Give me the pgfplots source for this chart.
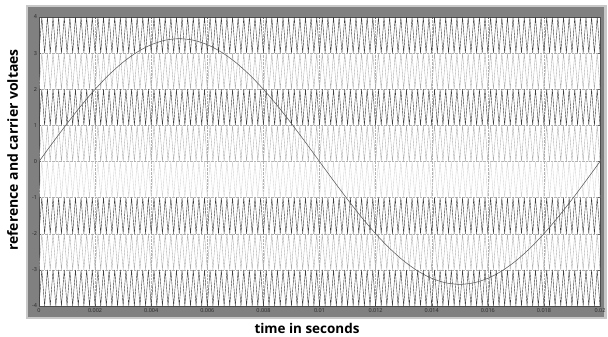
\documentclass[border=0pt]{standalone}
\usepackage{fontspec}
\setmainfont{Open Sans}
\usepackage{pgfplots}
\usepackage{pgfplotstable}
\pgfplotsset{compat=1.18}
% carrier: time index n in units of 0.1 ms, s = normalised carrier level
\pgfplotstableread[row sep=\\]{
n s\\
0 0\\1 1\\2 0\\3 1\\4 0\\5 1\\6 0\\7 1\\8 0\\9 1\\
10 0\\11 1\\12 0\\13 1\\14 0\\15 1\\16 0\\17 1\\18 0\\19 1\\
20 0\\21 1\\22 0\\23 1\\24 0\\25 1\\26 0\\27 1\\28 0\\29 1\\
30 0\\31 1\\32 0\\33 1\\34 0\\35 1\\36 0\\37 1\\38 0\\39 1\\
40 0\\41 1\\42 0\\43 1\\44 0\\45 1\\46 0\\47 1\\48 0\\49 1\\
50 0\\51 1\\52 0\\53 1\\54 0\\55 1\\56 0\\57 1\\58 0\\59 1\\
60 0\\61 1\\62 0\\63 1\\64 0\\65 1\\66 0\\67 1\\68 0\\69 1\\
70 0\\71 1\\72 0\\73 1\\74 0\\75 1\\76 0\\77 1\\78 0\\79 1\\
80 0\\81 1\\82 0\\83 1\\84 0\\85 1\\86 0\\87 1\\88 0\\89 1\\
90 0\\91 1\\92 0\\93 1\\94 0\\95 1\\96 0\\97 1\\98 0\\99 1\\
100 0\\101 1\\102 0\\103 1\\104 0\\105 1\\106 0\\107 1\\108 0\\109 1\\
110 0\\111 1\\112 0\\113 1\\114 0\\115 1\\116 0\\117 1\\118 0\\119 1\\
120 0\\121 1\\122 0\\123 1\\124 0\\125 1\\126 0\\127 1\\128 0\\129 1\\
130 0\\131 1\\132 0\\133 1\\134 0\\135 1\\136 0\\137 1\\138 0\\139 1\\
140 0\\141 1\\142 0\\143 1\\144 0\\145 1\\146 0\\147 1\\148 0\\149 1\\
150 0\\151 1\\152 0\\153 1\\154 0\\155 1\\156 0\\157 1\\158 0\\159 1\\
160 0\\161 1\\162 0\\163 1\\164 0\\165 1\\166 0\\167 1\\168 0\\169 1\\
170 0\\171 1\\172 0\\173 1\\174 0\\175 1\\176 0\\177 1\\178 0\\179 1\\
180 0\\181 1\\182 0\\183 1\\184 0\\185 1\\186 0\\187 1\\188 0\\189 1\\
190 0\\191 1\\192 0\\193 1\\194 0\\195 1\\196 0\\197 1\\198 0\\199 1\\
200 0\\
}\carrier
% reference sine, time index n in units of 0.1 ms
\pgfplotstableread[row sep=\\]{
n v\\
0 0\\5 0.5319\\10 1.0507\\15 1.5436\\20 1.9985\\25 2.4042\\30 2.7507\\35 3.0294\\40 3.2336\\45 3.3581\\
50 3.4\\55 3.3581\\60 3.2336\\65 3.0294\\70 2.7507\\75 2.4042\\80 1.9985\\85 1.5436\\90 1.0507\\95 0.5319\\
100 0\\105 -0.5319\\110 -1.0507\\115 -1.5436\\120 -1.9985\\125 -2.4042\\130 -2.7507\\135 -3.0294\\140 -3.2336\\145 -3.3581\\
150 -3.4\\155 -3.3581\\160 -3.2336\\165 -3.0294\\170 -2.7507\\175 -2.4042\\180 -1.9985\\185 -1.5436\\190 -1.0507\\195 -0.5319\\
200 0\\
}\sine
\definecolor{frame}{RGB}{128,128,128}
\definecolor{frameedge}{RGB}{200,200,200}
\definecolor{darkc}{RGB}{60,60,60}
\definecolor{lightc}{RGB}{170,170,170}
\definecolor{vlightc}{RGB}{210,210,210}
\begin{document}
\begin{tikzpicture}[x=1bp,y=1bp]
\useasboundingbox (0,0) rectangle (608,336);
\fill[white] (0,0) rectangle (608,336);
\fill[frameedge] (26,17) rectangle (607,331);
\fill[frame] (28,19) rectangle (604,329);
\begin{axis}[
  at={(39bp,30bp)}, anchor=south west,
  scale only axis, width=561bp, height=289bp,
  xmin=0, xmax=200, ymin=-4, ymax=4,
  axis background/.style={fill=white},
  axis line style={draw=black!70, line width=0.4pt},
  xtick={0,20,...,200},
  xticklabels={0,0.002,0.004,0.006,0.008,0.01,0.012,0.014,0.016,0.018,0.02},
  ytick={-4,-3,...,4},
  tick style={draw=black!60, line width=0.3pt},
  major tick length=2bp,
  tick align=inside,
  grid=major,
  grid style={densely dotted, draw=black!30, line width=0.3pt},
  /pgf/number format/assume math mode=true,
  tick label style={font=\fontsize{5.5}{6}\selectfont, text=black!85},
  xticklabel style={yshift=1bp},
  yticklabel style={xshift=1.5bp},
  clip=true,
]
\addplot[darkc, line width=0.4pt] table[x=n, y expr=\thisrow{s}+3] {\carrier};
\addplot[lightc, line width=0.35pt] table[x=n, y expr=\thisrow{s}+2] {\carrier};
\addplot[darkc, line width=0.4pt] table[x=n, y expr=\thisrow{s}+1] {\carrier};
\addplot[lightc, line width=0.35pt] table[x=n, y expr=\thisrow{s}+0] {\carrier};
\addplot[vlightc, line width=0.35pt] table[x=n, y expr=\thisrow{s}-1] {\carrier};
\addplot[darkc, line width=0.4pt] table[x=n, y expr=\thisrow{s}-2] {\carrier};
\addplot[lightc, line width=0.35pt] table[x=n, y expr=\thisrow{s}-3] {\carrier};
\addplot[darkc, line width=0.4pt] table[x=n, y expr=\thisrow{s}-4] {\carrier};
\addplot[black!65, line width=0.55pt, smooth] table[x=n, y=v] {\sine};
\end{axis}
\node[rotate=90, inner sep=0pt, font=\bfseries\fontsize{14}{16}\selectfont] at (12.5,186) {reference and carrier voltaes};
\node[inner sep=0pt, font=\bfseries\fontsize{13.5}{15}\selectfont] at (307,8) {time in seconds};
\end{tikzpicture}
\end{document}
